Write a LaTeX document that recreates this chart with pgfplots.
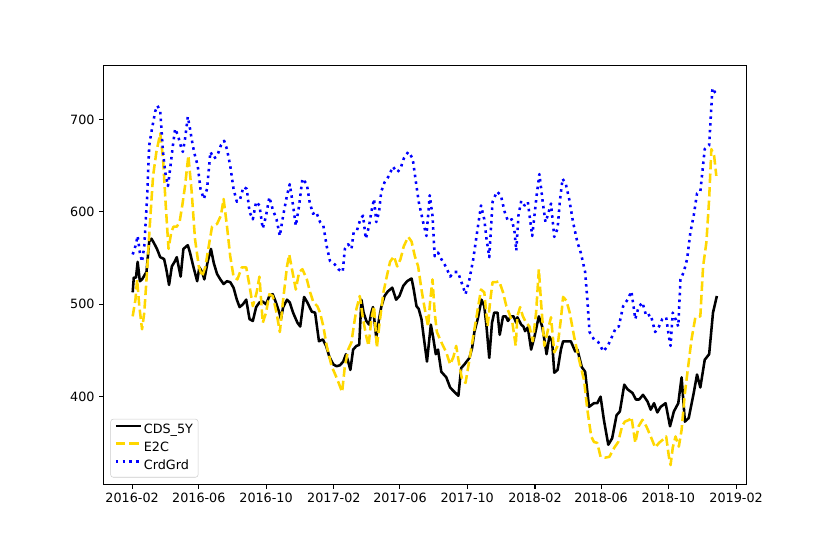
\documentclass[border=0pt]{standalone}
\usepackage{fontspec}
\setmainfont{DejaVu Sans}
\usepackage{pgfplots}
\pgfplotsset{compat=1.18}
\definecolor{mplgold}{RGB}{255,215,0}
\definecolor{legendedge}{RGB}{204,204,204}

\begin{document}
\begin{tikzpicture}
% page = whole figure, 9in x 6in
\path (-1.122in,-0.754in) rectangle (7.877in,5.253in);
\begin{axis}[
  at={(0,0)}, anchor=south west,
  scale only axis, width=6.967in, height=4.538in,
  xmin=-52, xmax=1114, ymin=305, ymax=758,
  % x = days since 2016-02-01
  xtick={0,121,243,366,486,608,731,851,973,1096},
  xticklabels={2016-02,2016-06,2016-10,2017-02,2017-06,2017-10,2018-02,2018-06,2018-10,2019-02},
  ytick={400,500,600,700},
  yticklabels={400,500,600,700},
  xtick pos=left, ytick pos=left,
  tick align=outside,
  major tick length=3.5pt,
  every tick/.style={black, line width=0.8pt},
  axis line style={line width=0.8pt},
  tick label style={font=\fontsize{10}{12}\selectfont},
  legend cell align=left,
  legend style={at={(0.0108,0.0167)}, anchor=south west, draw=legendedge,
    rounded corners=2pt, fill=white, fill opacity=0.8, text opacity=1,
    inner xsep=3pt, inner ysep=3pt, row sep=2.5pt,
    font=\fontsize{10}{12}\selectfont,
    nodes={inner sep=1pt, text height=7.5pt, text depth=2pt}},
  legend image code/.code={\draw[#1] (0pt,3.5pt) -- (20pt,3.5pt);},
  every axis plot/.append style={line width=2pt, line join=round},
]

\addplot[black] coordinates {
(1,513)(3,529)(7,529)(10,546)(14,525)(18,527)(26,535)(31,568)(35,571)(39,567)
(45,560)(51,551)(58,549)(62,538)(67,521)(72,541)(77,546)(81,551)(88,530)(93,560)
(101,564)(105,556)(111,541)(118,525)(122,540)(127,535)(131,527)(137,546)(143,560)(148,545)
(154,533)(160,527)(166,522)(172,525)(178,524)(184,518)(190,505)(195,497)(201,500)(207,505)
(213,484)(219,482)(225,497)(231,502)(237,503)(243,500)(249,509)(255,511)(261,502)(267,491)
(270,484)(274,497)(281,505)(286,502)(292,491)(300,480)(305,476)(312,508)(318,502)(326,492)
(332,491)(339,460)(346,462)(352,455)(358,443)(365,435)(371,433)(377,434)(383,438)(388,446)
(392,438)(396,429)(401,451)(407,455)(412,456)(416,505)(420,491)(425,482)(430,478)(434,491)
(437,497)(443,464)(448,484)(452,497)(458,509)(464,514)(472,518)(479,505)(485,509)(492,520)
(499,525)(507,528)(511,516)(516,498)(520,495)(525,484)(529,465)(535,438)(542,478)(546,465)
(551,446)(555,451)(561,427)(570,421)(577,410)(585,405)(592,401)(597,431)(603,435)(612,442)
(617,453)(621,470)(627,484)(634,505)(639,498)(643,476)(648,442)(653,480)(657,491)(663,491)
(667,467)(673,487)(678,487)(682,482)(687,487)(692,487)(697,480)(699,486)(706,478)(710,476)
(713,471)(718,475)(724,451)(730,465)(738,487)(744,476)(748,462)(752,446)(757,465)(762,460)
(766,426)(772,429)(778,451)(782,460)(790,460)(796,460)(804,449)(808,451)(816,432)(822,427)
(829,389)(838,393)(844,393)(850,400)(856,375)(864,348)(871,355)(879,380)(885,384)(893,413)
(899,408)(908,404)(914,397)(920,397)(927,402)(935,395)(941,386)(947,393)(953,383)(959,389)
(968,393)(976,368)(983,384)(991,393)(997,421)(1003,373)(1010,377)(1019,404)(1025,424)(1031,410)
(1039,440)(1047,446)(1054,491)(1061,509)
};
\addlegendentry{CDS\_5Y}

\addplot[mplgold, dash pattern=on 7.4pt off 3.2pt] coordinates {
(1,487)(6,505)(9,527)(13,498)(18,473)(22,491)(27,535)(32,585)(38,639)(44,665)
(51,685)(56,658)(61,607)(66,560)(71,578)(75,584)(81,584)(86,589)(91,607)(96,628)
(102,661)(108,622)(114,571)(121,541)(127,530)(133,541)(139,563)(145,584)(154,587)(161,596)
(166,614)(172,585)(178,552)(184,530)(191,527)(199,540)(207,540)(213,520)(219,498)(226,513)
(231,530)(237,480)(243,491)(249,511)(255,509)(262,491)(268,470)(274,505)(281,541)(285,554)
(291,535)(297,516)(303,535)(309,538)(317,527)(323,513)(329,502)(336,498)(341,491)(347,476)
(353,455)(362,433)(370,422)(376,413)(381,405)(386,433)(392,451)(398,459)(402,476)(407,495)
(413,509)(419,484)(425,465)(429,455)(434,484)(439,498)(444,453)(449,480)(456,513)(462,530)
(468,546)(475,552)(481,541)(487,549)(493,563)(501,573)(507,568)(513,552)(519,541)(525,516)
(531,495)(537,476)(541,505)(545,527)(549,491)(553,470)(561,459)(570,448)(577,435)(583,443)
(588,455)(594,433)(599,418)(605,415)(612,440)(618,462)(625,487)(633,516)(639,513)(645,476)
(650,505)(654,524)(660,524)(666,525)(673,513)(679,498)(685,489)(690,480)(696,455)(699,487)
(704,497)(709,487)(715,480)(721,476)(727,460)(733,491)(738,538)(742,502)(748,455)(754,471)
(760,486)(766,448)(772,455)(778,484)(782,508)(788,504)(794,491)(802,465)(811,440)(820,418)
(826,386)(833,357)(838,351)(844,350)(850,335)(858,334)(866,335)(875,345)(882,351)(889,368)
(894,373)(902,375)(906,378)(913,350)(919,368)(926,375)(933,368)(941,357)(949,345)(956,350)
(962,353)(969,357)(974,335)(977,326)(981,345)(986,357)(992,346)(997,364)(1003,404)(1009,433)
(1015,462)(1022,486)(1031,487)(1036,541)(1042,567)(1047,614)(1051,668)(1056,661)(1060,639)
};
\addlegendentry{E2C}

\addplot[blue, dash pattern=on 2pt off 3.3pt] coordinates {
(1,554)(6,563)(10,574)(14,556)(18,546)(22,563)(27,614)(31,672)(36,690)(42,709)
(46,715)(51,709)(56,665)(60,643)(65,628)(69,647)(74,672)(78,690)(83,683)(88,672)
(92,665)(96,679)(101,703)(105,690)(110,672)(114,661)(119,650)(124,625)(130,614)(136,625)
(142,665)(148,658)(154,660)(161,672)(167,677)(172,668)(178,650)(184,625)(190,611)(196,614)
(202,627)(208,625)(213,600)(219,592)(225,611)(231,607)(237,582)(243,596)(249,616)(255,603)
(262,592)(268,574)(274,596)(281,618)(286,630)(292,607)(297,585)(303,607)(309,636)(317,630)
(322,611)(328,598)(334,600)(341,589)(347,585)(353,563)(359,547)(368,543)(374,538)(382,535)
(386,560)(392,565)(398,560)(402,578)(408,580)(414,592)(419,596)(424,571)(430,585)(434,600)
(439,614)(443,589)(448,600)(452,622)(458,632)(466,639)(473,649)(481,643)(487,647)(493,658)
(501,665)(509,658)(515,632)(520,611)(528,589)(534,574)(540,618)(545,596)(549,552)(555,556)
(561,549)(570,540)(577,530)(585,535)(591,535)(597,525)(605,511)(612,527)(619,549)(625,574)
(633,607)(639,592)(643,571)(648,551)(654,611)(662,622)(669,618)(676,600)(682,590)(689,592)
(694,578)(697,558)(701,596)(706,612)(712,607)(718,611)(722,592)(726,574)(730,596)(734,618)
(739,641)(745,611)(750,589)(754,596)(760,609)(766,573)(772,582)(776,611)(781,636)(787,630)
(793,614)(800,589)(808,567)(814,556)(822,535)(826,505)(830,470)(838,462)(846,459)(855,449)
(863,455)(870,464)(878,475)(883,476)(891,498)(899,505)(906,514)(913,484)(919,497)(926,502)
(933,487)(941,489)(949,470)(956,476)(962,484)(969,486)(974,465)(977,455)(981,491)(986,484)
(991,476)(995,527)(1001,535)(1007,549)(1013,578)(1019,596)(1025,620)(1031,622)(1039,668)(1047,672)
(1053,734)(1057,730)(1062,726)
};
\addlegendentry{CrdGrd}

\end{axis}
\end{tikzpicture}
\end{document}
